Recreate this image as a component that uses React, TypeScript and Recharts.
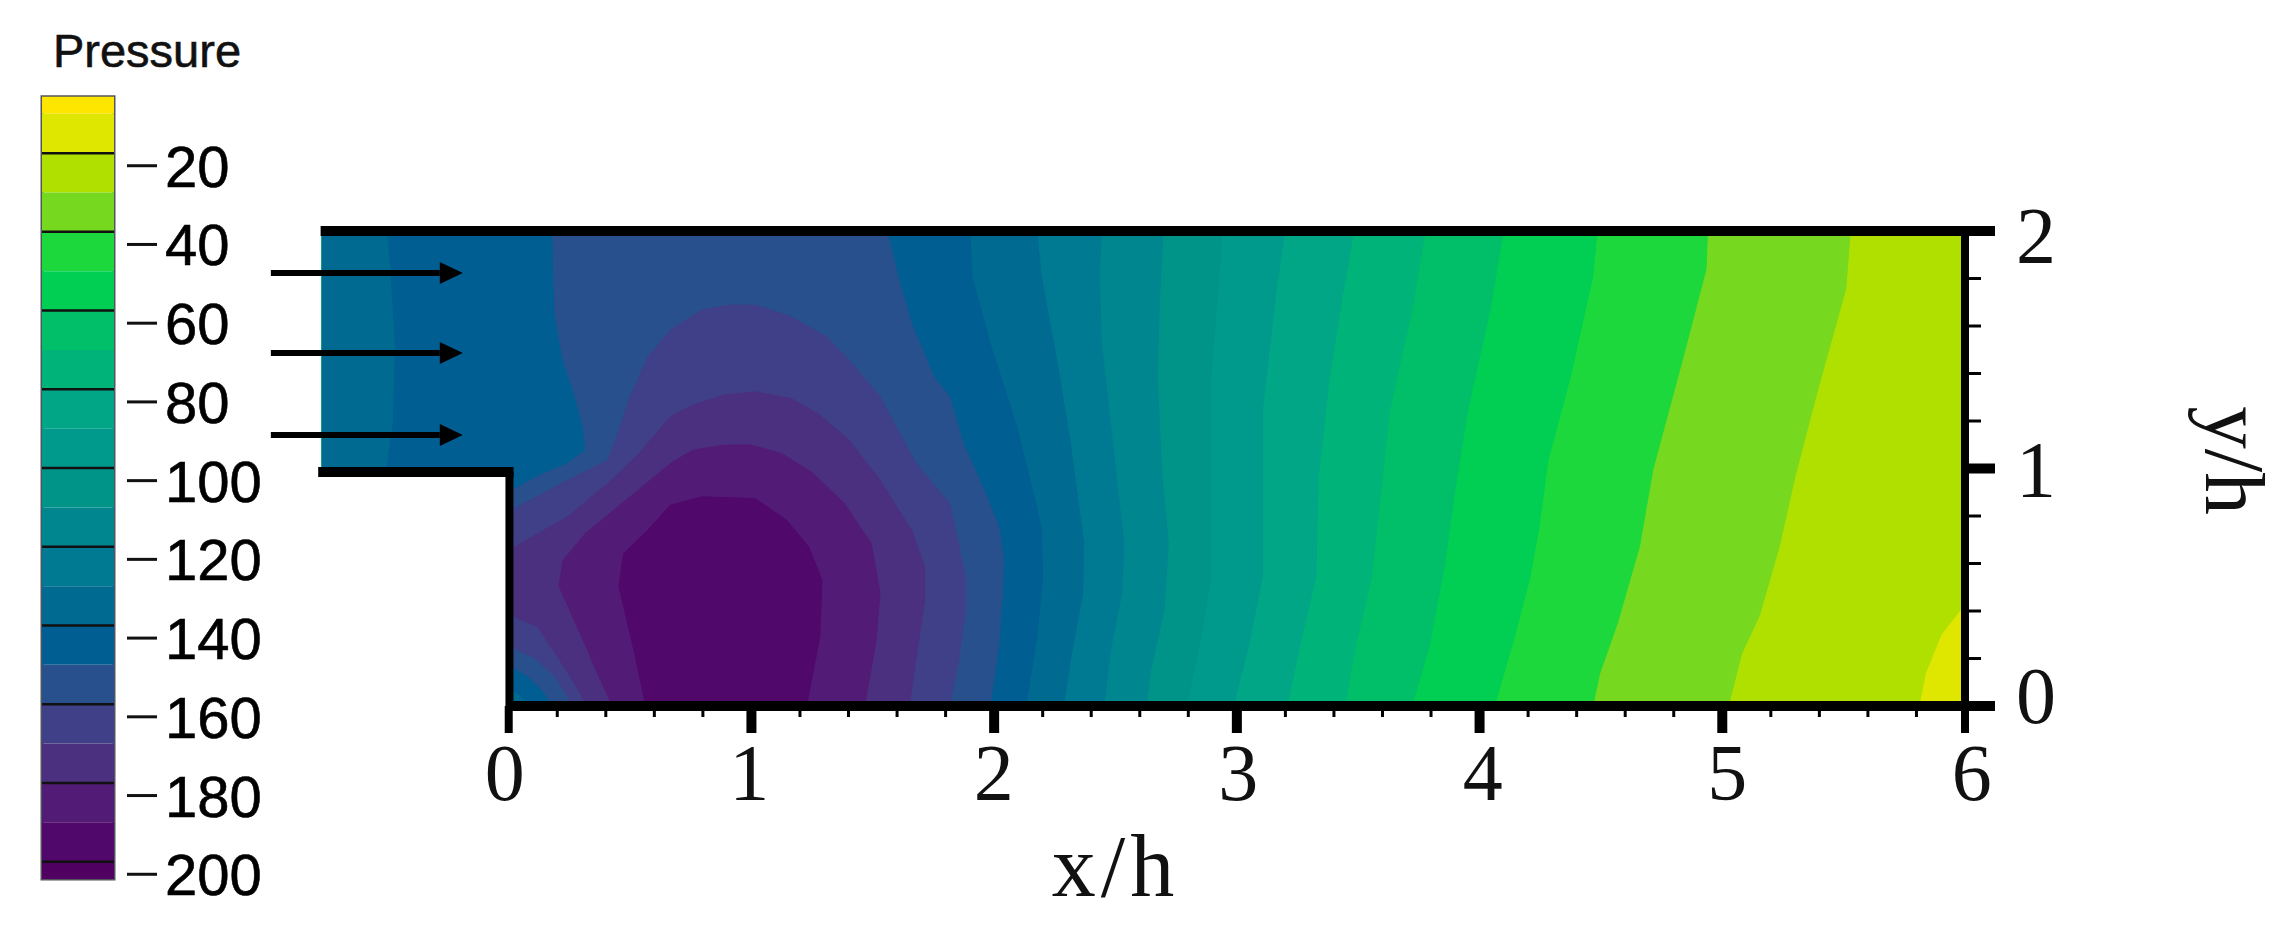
import { BarChart, Bar, ScatterChart, Scatter, XAxis, YAxis, ReferenceLine, ReferenceArea } from "recharts";

type Pt = [number, number];

// colour bar
const bandEdges = [-2.5, -6.8, -16.8, -26.8, -36.8, -46.8, -56.8, -66.8, -76.8, -86.8, -96.8, -106.8, -116.8, -126.8, -136.8, -146.8, -156.8, -166.8, -176.8, -186.8, -196.8, -201.2];
const bandColors = ["#ffe600", "#dfe600", "#b0e000", "#76d91f", "#1cd83c", "#00cf54", "#00bf68", "#00b378", "#00a686", "#009a8c", "#009488", "#00868f", "#007a92", "#006a90", "#005e92", "#28508c", "#3f4088", "#4b307f", "#521c76", "#50096a", "#4f0060"];
const barTicks = [-20, -40, -60, -80, -100, -120, -140, -160, -180, -200];
const barLines = [-16.8, -36.8, -56.8, -76.8, -96.8, -116.8, -136.8, -156.8, -176.8, -196.8];

// axis ticks
const xTicks = [0, 0.2, 0.4, 0.6, 0.8, 1, 1.2, 1.4, 1.6, 1.8, 2, 2.2, 2.4, 2.6, 2.8, 3, 3.2, 3.4, 3.6, 3.8, 4, 4.2, 4.4, 4.6, 4.8, 5, 5.2, 5.4, 5.6, 5.8, 6];
const yTicks = [0, 0.2, 0.4, 0.6, 0.8, 1, 1.2, 1.4, 1.6, 1.8, 2];
const yLabelDrop: Record<number, number> = { 0: 17, 1: 28, 2: 32 };

// pressure contours, top wall to bottom wall (x/h, y/h)
const p16: Pt[] = [[6, 2], [6, 0.43], [5.901, 0.3], [5.837, 0.138], [5.81, 0]];
const p26: Pt[] = [[5.527, 2], [5.509, 1.758], [5.39, 1.32], [5.299, 0.964], [5.235, 0.672], [5.153, 0.381], [5.079, 0.219], [5.025, 0]];
const p36: Pt[] = [[4.939, 2], [4.933, 1.839], [4.842, 1.482], [4.714, 0.996], [4.659, 0.673], [4.568, 0.349], [4.495, 0.138], [4.466, 0]];
const p46: Pt[] = [[4.484, 2], [4.466, 1.807], [4.374, 1.386], [4.282, 1.035], [4.245, 0.755], [4.208, 0.544], [4.144, 0.291], [4.061, 0]];
const p56: Pt[] = [[4.098, 2], [4.043, 1.667], [3.951, 1.246], [3.896, 0.895], [3.859, 0.614], [3.795, 0.263], [3.721, 0]];
const p66: Pt[] = [[3.776, 2], [3.721, 1.667], [3.629, 1.246], [3.592, 0.895], [3.555, 0.544], [3.491, 0.263], [3.445, 0]];
const p76: Pt[] = [[3.482, 2], [3.436, 1.737], [3.381, 1.386], [3.335, 0.965], [3.325, 0.544], [3.261, 0.263], [3.206, 0]];
const p86: Pt[] = [[3.197, 2], [3.16, 1.737], [3.105, 1.246], [3.105, 0.965], [3.105, 0.544], [3.05, 0.263], [2.985, 0]];
const p96: Pt[] = [[2.939, 2], [2.921, 1.737], [2.893, 1.386], [2.893, 0.965], [2.893, 0.544], [2.847, 0.263], [2.792, 0]];
const p106: Pt[] = [[2.696, 2], [2.682, 1.737], [2.672, 1.386], [2.691, 0.965], [2.718, 0.685], [2.7, 0.404], [2.645, 0.151], [2.626, 0]];
const p116: Pt[] = [[2.442, 2], [2.433, 1.807], [2.442, 1.527], [2.488, 1.106], [2.534, 0.685], [2.525, 0.474], [2.479, 0.235], [2.452, 0]];
const p126: Pt[] = [[2.176, 2], [2.194, 1.807], [2.258, 1.456], [2.314, 1.106], [2.369, 0.685], [2.365, 0.474], [2.314, 0.193], [2.286, 0]];

// closed regions around the recirculation zone
const p136: Pt[] = [[-0.502, 2], [1.9, 2], [1.909, 1.807], [1.983, 1.527], [2.093, 1.176], [2.194, 0.755], [2.2, 0.544], [2.176, 0.291], [2.13, 0], [0, 0], [0, 1], [-0.502, 1], [-0.475, 1.2], [-0.466, 1.527], [-0.484, 1.807]];
const p146: Pt[] = [[0.178, 2], [1.558, 2], [1.604, 1.807], [1.659, 1.611], [1.751, 1.386], [1.817, 1.302], [1.872, 1.106], [1.964, 0.895], [2.019, 0.755], [2.038, 0.614], [2.034, 0.474], [2.019, 0.263], [1.983, 0], [0, 0], [0, 0.9], [0.114, 0.965], [0.243, 1.021], [0.316, 1.077], [0.307, 1.176], [0.27, 1.316], [0.224, 1.456], [0.188, 1.667]];
const p156: Pt[] = [[0, 0.818], [0.243, 0.951], [0.408, 1.035], [0.445, 1.134], [0.5, 1.302], [0.574, 1.47], [0.666, 1.583], [0.795, 1.667], [0.905, 1.688], [1.015, 1.688], [1.163, 1.639], [1.31, 1.555], [1.402, 1.456], [1.53, 1.302], [1.678, 1.021], [1.817, 0.853], [1.882, 0.544], [1.882, 0.404], [1.854, 0.193], [1.815, 0], [0, 0]];
const p166: Pt[] = [[0, 0.656], [0.243, 0.797], [0.408, 0.937], [0.537, 1.063], [0.666, 1.218], [0.758, 1.267], [0.887, 1.309], [1.015, 1.323], [1.163, 1.295], [1.273, 1.232], [1.402, 1.12], [1.53, 0.951], [1.659, 0.741], [1.714, 0.586], [1.714, 0.446], [1.687, 0.263], [1.65, 0], [0, 0]];
const p176: Pt[] = [[0.206, 0.502], [0.224, 0.614], [0.316, 0.727], [0.5, 0.881], [0.666, 1.021], [0.758, 1.077], [0.887, 1.099], [0.997, 1.099], [1.126, 1.063], [1.255, 0.979], [1.383, 0.853], [1.494, 0.684], [1.53, 0.474], [1.512, 0.263], [1.466, 0], [0.427, 0], [0.335, 0.207]];
const p186: Pt[] = [[0.565, 0], [0.519, 0.221], [0.454, 0.502], [0.473, 0.642], [0.574, 0.741], [0.666, 0.846], [0.795, 0.881], [1.015, 0.874], [1.144, 0.783], [1.236, 0.67], [1.291, 0.53], [1.282, 0.291], [1.227, 0]];

// higher pressure in the step corner
const corner166: Pt[] = [[0, 0.383], [0.12, 0.328], [0.197, 0.206], [0.251, 0.122], [0.321, 0], [0, 0]];
const corner156: Pt[] = [[0, 0.249], [0.114, 0.193], [0.188, 0.123], [0.261, 0], [0, 0]];
const corner146: Pt[] = [[0, 0.17], [0.08, 0.12], [0.14, 0.06], [0.18, 0], [0, 0]];
const corner136: Pt[] = [[0, 0.07], [0.05, 0.04], [0.085, 0], [0, 0]];

// walls and inlet arrows
const topWall: Pt[] = [[-0.775, 2], [6, 2]];
const floorWall: Pt[] = [[0, 0], [6, 0]];
const inletWall: Pt[] = [[-0.785, 0.985], [0.02, 0.985]];
const stepWall: Pt[] = [[0.003, 0.985], [0.003, 0]];
const outletWall: Pt[] = [[6, 2], [6, 0]];
const arrowRows = [1.823, 1.486, 1.141];
const arrowTail = -0.98;
const arrowHead = -0.284;

const channel: Pt[] = [[-0.77, 2], [6, 2], [6, 0], [0, 0], [0, 1], [-0.77, 1]];
const openRegion = (contour: Pt[]): Pt[] => [[-0.77, 2], ...contour, [0, 0], [0, 1], [-0.77, 1]];

const layers: { points: Pt[]; color: string }[] = [
  { points: channel, color: "#dfe600" },
  { points: openRegion(p16), color: "#b0e000" },
  { points: openRegion(p26), color: "#76d91f" },
  { points: openRegion(p36), color: "#1cd83c" },
  { points: openRegion(p46), color: "#00cf54" },
  { points: openRegion(p56), color: "#00bf68" },
  { points: openRegion(p66), color: "#00b378" },
  { points: openRegion(p76), color: "#00a686" },
  { points: openRegion(p86), color: "#009a8c" },
  { points: openRegion(p96), color: "#009488" },
  { points: openRegion(p106), color: "#00868f" },
  { points: openRegion(p116), color: "#007a92" },
  { points: openRegion(p126), color: "#006a90" },
  { points: p136, color: "#005e92" },
  { points: p146, color: "#28508c" },
  { points: p156, color: "#3f4088" },
  { points: p166, color: "#4b307f" },
  { points: p176, color: "#521c76" },
  { points: p186, color: "#50096a" },
  { points: corner166, color: "#3f4088" },
  { points: corner156, color: "#28508c" },
  { points: corner146, color: "#005e92" },
  { points: corner136, color: "#006a90" },
];

const walls: { points: Pt[]; width: number }[] = [
  { points: topWall, width: 10 },
  { points: floorWall, width: 10 },
  { points: inletWall, width: 10 },
  { points: stepWall, width: 8 },
  { points: outletWall, width: 8 },
];

const SERIF = "'Liberation Serif', serif";
const SANS = "'Liberation Sans', sans-serif";

const toXY = (pts: Pt[]) => pts.map(([x, y]) => ({ x, y }));
const noDot = () => <g />;

const barRow: Record<string, number | string> = { name: "p" };
bandEdges.slice(1).forEach((edge, i) => {
  barRow[`b${i}`] = edge - bandEdges[i];
});

function XTick({ x, y, payload }: any) {
  const value = payload.value;
  const major = Number.isInteger(value);
  const width = !major ? 3 : value === 0 || value === 6 ? 8 : 10;
  return (
    <g>
      <line x1={x} x2={x} y1={y} y2={y + (major ? 27 : 11)} stroke="#000" strokeWidth={width} />
      {major && (
        // labels in the original drift slightly right of their ticks
        <text x={x - 4 + value * 1.8} y={y + 94} textAnchor="middle" fontFamily={SERIF} fontSize={80} fill="#111">
          {value}
        </text>
      )}
    </g>
  );
}

function YTick({ x, y, payload }: any) {
  const major = Number.isInteger(payload.value);
  return (
    <g>
      <line x1={x} x2={x + (major ? 30 : 16)} y1={y} y2={y} stroke="#000" strokeWidth={major ? 10 : 3} />
      {major && (
        <text x={x + 71} y={y + yLabelDrop[payload.value]} textAnchor="middle" fontFamily={SERIF} fontSize={80} fill="#111">
          {payload.value}
        </text>
      )}
    </g>
  );
}

// the tick mark itself reads as the minus sign, as in the original
function BarTick({ x, y, payload }: any) {
  return (
    <g>
      <line x1={x + 13} x2={x + 43} y1={y} y2={y} stroke="#111" strokeWidth={3} />
      <text x={x + 51} y={y + 21} fontFamily={SANS} fontSize={58} fill="#000" stroke="#000" strokeWidth={0.6}>
        {Math.abs(payload.value)}
      </text>
    </g>
  );
}

function ArrowShape({ cx, cy, payload }: any) {
  if (payload.x !== arrowHead) return <g />;
  return <polygon points={`${cx},${cy - 11} ${cx + 23},${cy} ${cx},${cy + 11}`} fill="#000" />;
}

export default function App() {
  return (
    <div style={{ position: "absolute", left: 0, top: 0, width: 2295, height: 929, background: "#fff", overflow: "hidden" }}>
      <div style={{ position: "absolute", left: 0, top: 0 }}>
        <ScatterChart width={2295} height={929} margin={{ top: 231, right: 0, bottom: 103, left: 266 }}>
          <XAxis
            type="number"
            dataKey="x"
            domain={[-1, 6]}
            ticks={xTicks}
            interval={0}
            axisLine={false}
            tickLine={false}
            tickSize={0}
            tickMargin={0}
            height={120}
            tick={<XTick />}
            label={{ value: "x/h", position: "insideBottom", offset: -70, dx: 0, fontFamily: SERIF, fontSize: 88, letterSpacing: 5, fill: "#111" }}
          />
          <YAxis
            type="number"
            dataKey="y"
            orientation="right"
            domain={[0, 2]}
            ticks={yTicks}
            interval={0}
            axisLine={false}
            tickLine={false}
            tickSize={0}
            tickMargin={0}
            width={330}
            tick={<YTick />}
            label={{ value: "y/h", angle: 90, position: "center", dx: 106, dy: -8, fontFamily: SERIF, fontSize: 85, fill: "#111" }}
          />
          {layers.map((layer, i) => (
            <Scatter
              key={i}
              data={toXY(layer.points)}
              isAnimationActive={false}
              shape={noDot}
              line={{ fill: layer.color, stroke: layer.color, strokeWidth: 1 }}
            />
          ))}
          {walls.map((wall, i) => (
            <Scatter
              key={`w${i}`}
              data={toXY(wall.points)}
              isAnimationActive={false}
              shape={noDot}
              line={{ stroke: "#000", strokeWidth: wall.width }}
            />
          ))}
          {arrowRows.map((row) => (
            <Scatter
              key={row}
              data={[{ x: arrowTail, y: row }, { x: arrowHead, y: row }]}
              isAnimationActive={false}
              shape={<ArrowShape />}
              line={{ stroke: "#000", strokeWidth: 6 }}
            />
          ))}
        </ScatterChart>
      </div>
      <div style={{ position: "absolute", left: 0, top: 0 }}>
        <BarChart width={300} height={929} data={[barRow]} barCategoryGap={0} margin={{ top: 87, right: 0, bottom: 50, left: 42 }}>
          <XAxis dataKey="name" hide />
          <YAxis
            type="number"
            orientation="right"
            domain={[-201.2, 0]}
            ticks={barTicks}
            interval={0}
            axisLine={false}
            tickLine={false}
            tickSize={0}
            tickMargin={0}
            width={186}
            tick={<BarTick />}
          />
          <Bar dataKey={() => bandEdges[0]} stackId="cb" fill="none" isAnimationActive={false} />
          {bandColors.map((color, i) => (
            <Bar key={color} dataKey={`b${i}`} stackId="cb" fill={color} isAnimationActive={false} />
          ))}
          {barLines.map((v) => (
            <ReferenceLine key={v} y={v} stroke="#111" strokeWidth={2.5} />
          ))}
          <ReferenceArea y1={bandEdges[bandEdges.length - 1]} y2={bandEdges[0]} fill="none" stroke="#55555f" strokeWidth={3} />
          <text x={147} y={67} textAnchor="middle" fontFamily={SANS} fontSize={47} fill="#111" stroke="#111" strokeWidth={0.6}>
            Pressure
          </text>
        </BarChart>
      </div>
    </div>
  );
}
